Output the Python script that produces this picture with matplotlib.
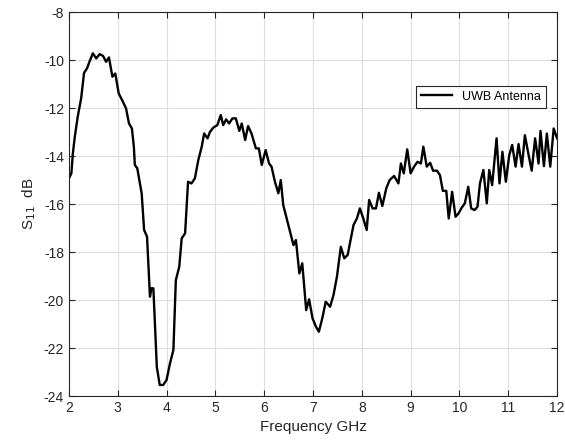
import numpy as np
import matplotlib.pyplot as plt

plt.rcParams['font.family'] = ['Liberation Sans', 'DejaVu Sans']
plt.rcParams['axes.unicode_minus'] = False

# S11 trace
freq = [2.00, 2.05, 2.08, 2.12, 2.18, 2.25, 2.31, 2.37, 2.42, 2.49, 2.56, 2.63, 2.70, 2.76,
        2.82, 2.89, 2.95, 3.02, 3.09, 3.17, 3.23, 3.29, 3.33, 3.35, 3.40, 3.45, 3.49, 3.54,
        3.60, 3.66, 3.69, 3.73, 3.80, 3.86, 3.93, 4.00, 4.07, 4.14, 4.19, 4.26, 4.31, 4.38,
        4.44, 4.51, 4.58, 4.65, 4.72, 4.77, 4.84, 4.89, 4.96, 5.04, 5.11, 5.16, 5.22, 5.28,
        5.35, 5.42, 5.49, 5.54, 5.61, 5.67, 5.74, 5.83, 5.89, 5.95, 6.03, 6.10, 6.15, 6.22,
        6.29, 6.34, 6.39, 6.46, 6.53, 6.60, 6.65, 6.72, 6.78, 6.86, 6.92, 6.99, 7.06, 7.12,
        7.19, 7.26, 7.35, 7.42, 7.49, 7.57, 7.64, 7.71, 7.77, 7.83, 7.90, 7.96, 8.03, 8.10,
        8.15, 8.22, 8.29, 8.35, 8.42, 8.50, 8.57, 8.66, 8.75, 8.80, 8.86, 8.93, 9.00, 9.07,
        9.14, 9.21, 9.26, 9.33, 9.40, 9.46, 9.54, 9.60, 9.66, 9.73, 9.78, 9.85, 9.92, 9.98,
        10.05, 10.11, 10.18, 10.24, 10.31, 10.37, 10.42, 10.49, 10.56, 10.61, 10.67, 10.76,
        10.82, 10.88, 10.95, 11.02, 11.08, 11.15, 11.21, 11.28, 11.34, 11.41, 11.48, 11.55,
        11.62, 11.66, 11.73, 11.79, 11.86, 11.93, 12.00]
s11 = [-14.93, -14.72, -13.90, -13.20, -12.36, -11.60, -10.53, -10.35, -10.07, -9.72, -9.93,
       -9.75, -9.83, -10.07, -9.89, -10.69, -10.56, -11.39, -11.67, -12.01, -12.64, -12.85,
       -13.61, -14.37, -14.51, -15.10, -15.55, -17.08, -17.36, -19.86, -19.51, -19.51, -22.78,
       -23.54, -23.54, -23.33, -22.64, -22.08, -19.17, -18.61, -17.43, -17.22, -15.07, -15.14,
       -14.93, -14.17, -13.61, -13.06, -13.26, -12.99, -12.81, -12.71, -12.29, -12.71, -12.47,
       -12.64, -12.43, -12.43, -12.95, -12.64, -13.33, -12.75, -13.06, -13.68, -13.68, -14.37,
       -13.75, -14.31, -14.44, -15.07, -15.55, -15.00, -16.04, -16.60, -17.15, -17.71, -17.50,
       -18.89, -18.47, -20.42, -19.97, -20.76, -21.11, -21.32, -20.76, -20.07, -20.28, -19.79,
       -19.03, -17.78, -18.26, -18.12, -17.50, -16.87, -16.60, -16.18, -16.60, -17.08, -15.83,
       -16.18, -16.18, -15.53, -16.08, -15.35, -15.00, -14.83, -15.14, -14.31, -14.72, -13.72,
       -14.72, -14.44, -14.24, -14.31, -13.61, -14.44, -14.28, -14.61, -14.61, -14.79, -15.45,
       -15.45, -16.60, -15.49, -16.53, -16.39, -16.14, -15.97, -15.28, -16.18, -16.25, -16.11,
       -15.14, -14.58, -15.97, -14.58, -15.21, -13.26, -15.14, -13.82, -15.07, -13.96, -13.54,
       -14.44, -13.50, -14.44, -13.13, -13.89, -14.61, -13.26, -14.31, -12.95, -14.42, -13.06,
       -14.44, -12.85, -13.26]

fig = plt.figure(figsize=(5.65, 4.48), dpi=100)
ax = fig.add_axes([0.122, 0.116, 0.864, 0.857])

ax.plot(freq, s11, color='black', lw=1.7, label='UWB Antenna')

ax.set_xlim(2, 12)
ax.set_ylim(-24, -8)
ax.set_xticks(np.arange(2, 13, 1))
ax.set_yticks(np.arange(-24, -7, 2))
ax.grid(True, color='#dedede', lw=0.8)
ax.set_axisbelow(True)
ax.tick_params(direction='in', top=True, right=True, labelsize=10,
               colors='#262626', length=4)
for sp in ax.spines.values():
    sp.set_color('#262626')
    sp.set_linewidth(0.8)

ax.set_xlabel('Frequency GHz', fontsize=11, color='#262626')
ax.set_ylabel('S$_{11}$  dB', fontsize=11, color='#262626')

leg = ax.legend(loc='upper right', bbox_to_anchor=(0.99, 0.825), fancybox=False,
                edgecolor='#262626', framealpha=1, fontsize=9, handlelength=2.5,
                borderpad=0.4)
leg.get_frame().set_linewidth(0.8)

fig.savefig('out.png', dpi=100)
